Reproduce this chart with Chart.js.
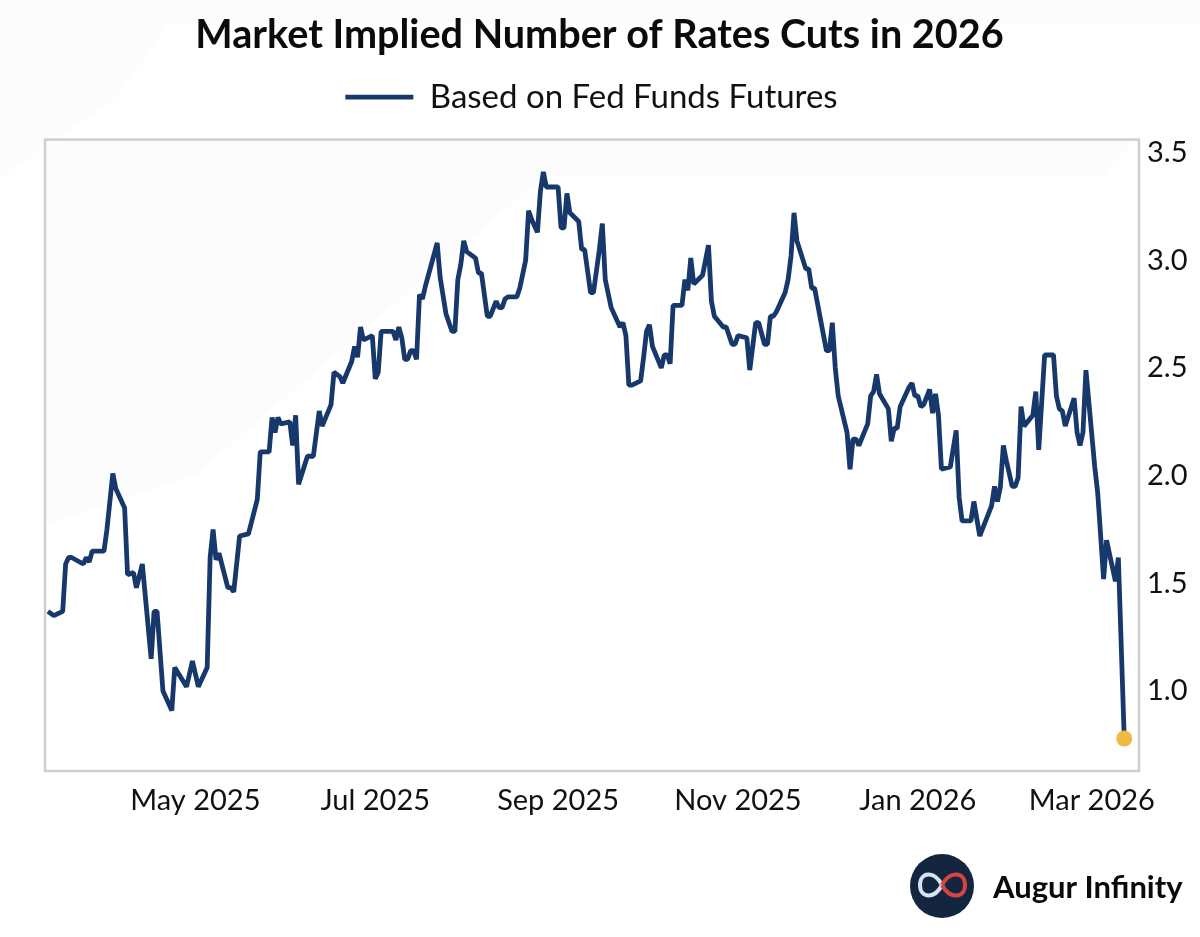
<!DOCTYPE html>
<html>
<head>
<meta charset="utf-8">
<title>Market Implied Number of Rates Cuts in 2026</title>
<script src="https://cdn.jsdelivr.net/npm/chart.js@4"></script>
<style>
  html, body { margin: 0; padding: 0; background: #fff; }
  #wrap { width: 1200px; height: 937px; }
</style>
</head>
<body>
<div id="wrap"><canvas id="cutsChart" width="1200" height="937"></canvas></div>
<script>
const dates = [
  '2025-03-12','2025-03-14','2025-03-17','2025-03-18','2025-03-19','2025-03-20','2025-03-24','2025-03-25','2025-03-26','2025-03-27',
  '2025-03-31','2025-04-01','2025-04-03','2025-04-04','2025-04-07','2025-04-08','2025-04-10','2025-04-11','2025-04-13','2025-04-16',
  '2025-04-17','2025-04-18','2025-04-20','2025-04-23','2025-04-24','2025-04-28','2025-04-30','2025-05-02','2025-05-05','2025-05-06',
  '2025-05-07','2025-05-08','2025-05-09','2025-05-12','2025-05-13','2025-05-14','2025-05-16','2025-05-19','2025-05-22','2025-05-23',
  '2025-05-26','2025-05-27','2025-05-28','2025-05-29','2025-05-30','2025-06-02','2025-06-03','2025-06-04','2025-06-05','2025-06-08',
  '2025-06-10','2025-06-12','2025-06-13','2025-06-16','2025-06-17','2025-06-19','2025-06-20','2025-06-23','2025-06-24','2025-06-25',
  '2025-06-26','2025-06-27','2025-06-30','2025-07-01','2025-07-02','2025-07-03','2025-07-07','2025-07-08','2025-07-09','2025-07-10',
  '2025-07-11','2025-07-12','2025-07-13','2025-07-14','2025-07-15','2025-07-16','2025-07-17','2025-07-18','2025-07-22','2025-07-23',
  '2025-07-25','2025-07-27','2025-07-28','2025-07-29','2025-07-30','2025-07-31','2025-08-01','2025-08-04','2025-08-05','2025-08-06',
  '2025-08-08','2025-08-09','2025-08-11','2025-08-12','2025-08-13','2025-08-14','2025-08-15','2025-08-18','2025-08-19','2025-08-21',
  '2025-08-22','2025-08-23','2025-08-25','2025-08-26','2025-08-27','2025-08-28','2025-09-01','2025-09-02','2025-09-03','2025-09-04',
  '2025-09-05','2025-09-08','2025-09-09','2025-09-10','2025-09-12','2025-09-13','2025-09-15','2025-09-16','2025-09-17','2025-09-19',
  '2025-09-22','2025-09-23','2025-09-24','2025-09-25','2025-09-26','2025-09-29','2025-09-30','2025-10-01','2025-10-02','2025-10-03',
  '2025-10-06','2025-10-07','2025-10-08','2025-10-09','2025-10-10','2025-10-13','2025-10-14','2025-10-15','2025-10-16','2025-10-17',
  '2025-10-20','2025-10-22','2025-10-23','2025-10-24','2025-10-27','2025-10-28','2025-10-30','2025-10-31','2025-11-01','2025-11-04',
  '2025-11-05','2025-11-07','2025-11-08','2025-11-10','2025-11-11','2025-11-12','2025-11-13','2025-11-14','2025-11-17','2025-11-18',
  '2025-11-19','2025-11-20','2025-11-21','2025-11-24','2025-11-25','2025-11-26','2025-11-27','2025-12-01','2025-12-02','2025-12-03',
  '2025-12-04','2025-12-05','2025-12-08','2025-12-09','2025-12-10','2025-12-11','2025-12-12','2025-12-15','2025-12-16','2025-12-17',
  '2025-12-18','2025-12-19','2025-12-22','2025-12-23','2025-12-24','2025-12-25','2025-12-26','2025-12-29','2025-12-30','2025-12-31',
  '2026-01-01','2026-01-02','2026-01-03','2026-01-05','2026-01-06','2026-01-07','2026-01-08','2026-01-09','2026-01-12','2026-01-14',
  '2026-01-15','2026-01-16','2026-01-19','2026-01-20','2026-01-22','2026-01-26','2026-01-27','2026-01-28','2026-01-29','2026-01-30',
  '2026-01-31','2026-02-02','2026-02-03','2026-02-04','2026-02-05','2026-02-06','2026-02-09','2026-02-10','2026-02-11','2026-02-13',
  '2026-02-16','2026-02-17','2026-02-18','2026-02-19','2026-02-20','2026-02-23','2026-02-24','2026-02-25','2026-02-26','2026-02-27',
  '2026-03-02','2026-03-03','2026-03-05','2026-03-06','2026-03-09','2026-03-10','2026-03-12'
];
const impliedCuts = [
  1.37,1.35,1.37,1.59,1.62,1.62,1.59,1.62,1.60,1.65,
  1.65,1.75,2.01,1.94,1.85,1.54,1.55,1.48,1.59,1.15,
  1.37,1.37,1.00,0.91,1.11,1.02,1.14,1.02,1.11,1.62,
  1.75,1.61,1.64,1.48,1.48,1.46,1.72,1.73,1.89,2.11,
  2.11,2.27,2.20,2.27,2.24,2.25,2.14,2.28,1.96,2.09,
  2.09,2.30,2.23,2.33,2.48,2.46,2.43,2.53,2.60,2.55,
  2.69,2.63,2.65,2.45,2.48,2.67,2.67,2.63,2.69,2.64,
  2.54,2.54,2.58,2.58,2.54,2.84,2.82,2.88,3.08,2.92,
  2.75,2.67,2.67,2.91,2.98,3.09,3.04,3.01,2.94,2.94,
  2.74,2.74,2.81,2.78,2.78,2.82,2.83,2.83,2.87,3.00,
  3.23,3.19,3.13,3.32,3.41,3.34,3.34,3.15,3.15,3.31,
  3.22,3.18,3.05,3.05,2.85,2.85,3.05,3.17,2.91,2.78,
  2.69,2.71,2.65,2.42,2.42,2.44,2.55,2.67,2.70,2.60,
  2.50,2.56,2.56,2.52,2.79,2.79,2.91,2.86,3.01,2.89,
  2.93,3.07,2.81,2.74,2.69,2.69,2.61,2.61,2.65,2.64,
  2.49,2.71,2.71,2.61,2.61,2.74,2.74,2.76,2.85,2.91,
  3.02,3.22,3.09,2.96,2.96,2.87,2.87,2.58,2.58,2.71,
  2.50,2.37,2.20,2.03,2.17,2.17,2.14,2.24,2.37,2.39,
  2.47,2.38,2.31,2.16,2.22,2.22,2.32,2.41,2.43,2.37,
  2.37,2.32,2.33,2.40,2.29,2.38,2.28,2.03,2.04,2.21,
  1.90,1.79,1.79,1.88,1.72,1.86,1.95,1.88,1.95,2.14,
  2.07,1.95,1.95,1.99,2.32,2.23,2.28,2.39,2.12,2.56,
  2.56,2.37,2.31,2.30,2.23,2.36,2.20,2.14,2.20,2.49,
  2.04,1.92,1.52,1.70,1.51,1.62,0.78
];
const xTickDates = ['2025-05-01','2025-07-01','2025-09-01','2025-11-01','2026-01-01','2026-03-01'];
const xTickLabels = ['May 2025','Jul 2025','Sep 2025','Nov 2025','Jan 2026','Mar 2026'];
const yTicks = [1.0, 1.5, 2.0, 2.5, 3.0, 3.5];
const xStart = '2025-03-11';
const xEnd = '2026-03-17';

const navy = '#17386b';
const gold = '#f0b93f';
const bodyFont = 'Lato';
const headFont = 'Lato';

// faint watermark behind everything
const watermark = {
  id: 'watermark',
  beforeDraw(chart) {
    const { ctx, chartArea: a } = chart;
    ctx.save();
    ctx.fillStyle = '#fcfcfc';
    ctx.beginPath();
    ctx.moveTo(0, 0);
    ctx.lineTo(1200, 0);
    ctx.lineTo(1200, 23);
    ctx.lineTo(170, 23);
    ctx.lineTo(113, 100);
    ctx.lineTo(0, 178);
    ctx.closePath();
    ctx.moveTo(a.left, a.top);
    ctx.lineTo(1135, a.top);
    ctx.lineTo(1103, 175);
    ctx.lineTo(545, 175);
    ctx.lineTo(195, 475);
    ctx.lineTo(a.left, 525);
    ctx.closePath();
    ctx.fill();
    ctx.restore();
  }
};

// grey box round the plot area
const frame = {
  id: 'frame',
  beforeDatasetsDraw(chart) {
    const { ctx, chartArea: a } = chart;
    ctx.save();
    ctx.strokeStyle = '#cfcfcf';
    ctx.lineWidth = 2.5;
    ctx.strokeRect(a.left, a.top, a.right - a.left, a.bottom - a.top);
    ctx.restore();
  }
};

// title and legend are centred on the page, not on the padded box
const headerShift = {
  id: 'headerShift',
  afterLayout(chart) {
    chart.titleBlock.left -= 23;
    chart.titleBlock.right -= 23;
    chart.legend.left -= 31;
    chart.legend.right -= 31;
    chart.legend.top -= 16;
    chart.legend.bottom -= 16;
  }
};

// logo and brand name, bottom right
const brand = {
  id: 'brand',
  afterDraw(chart) {
    const ctx = chart.ctx;
    ctx.save();
    ctx.fillStyle = '#14263f';
    ctx.beginPath();
    ctx.arc(942, 886, 32, 0, Math.PI * 2);
    ctx.fill();
    ctx.lineWidth = 4;
    ctx.strokeStyle = '#d5e3f2';
    ctx.beginPath();
    ctx.moveTo(942, 885);
    ctx.bezierCurveTo(934, 870, 920, 872, 920, 885);
    ctx.bezierCurveTo(920, 898, 934, 900, 942, 885);
    ctx.stroke();
    ctx.strokeStyle = '#d8443f';
    ctx.beginPath();
    ctx.moveTo(942, 885);
    ctx.bezierCurveTo(950, 870, 965, 872, 965, 885);
    ctx.bezierCurveTo(965, 898, 950, 900, 942, 885);
    ctx.stroke();
    ctx.fillStyle = '#0b0b0b';
    ctx.font = 'bold 31px ' + headFont;
    ctx.textBaseline = 'alphabetic';
    ctx.fillText('Augur Infinity', 993, 898);
    ctx.restore();
  }
};

new Chart(document.getElementById('cutsChart').getContext('2d'), {
  type: 'line',
  data: {
    datasets: [{
      label: 'Based on Fed Funds Futures',
      data: dates.map((d, i) => ({ x: Date.parse(d), y: impliedCuts[i] })),
      borderColor: navy,
      backgroundColor: navy,
      borderWidth: 4.8,
      borderJoinStyle: 'bevel',
      tension: 0,
      pointRadius: ctx => ctx.dataIndex === dates.length - 1 ? 8 : 0,
      pointBackgroundColor: gold,
      pointBorderWidth: 0
    }]
  },
  options: {
    responsive: false,
    animation: false,
    devicePixelRatio: 1,
    layout: { padding: { top: 0, left: 45, right: 0, bottom: 116 } },
    scales: {
      x: {
        type: 'linear',
        min: Date.parse(xStart),
        max: Date.parse(xEnd),
        grid: { display: false },
        border: { display: false },
        afterBuildTicks(scale) {
          scale.ticks = xTickDates.map(d => ({ value: Date.parse(d) }));
        },
        afterFit(scale) { scale.height = 50; },
        ticks: {
          autoSkip: false,
          maxRotation: 0,
          padding: 4,
          color: '#111',
          font: { family: bodyFont, size: 29 },
          callback: (value, i) => xTickLabels[i]
        }
      },
      y: {
        position: 'right',
        min: 0.629,
        max: 3.56,
        grid: { display: false, drawTicks: false },
        border: { display: false },
        afterBuildTicks(scale) {
          scale.ticks = yTicks.map(v => ({ value: v }));
        },
        afterFit(scale) { scale.width = 61; },
        ticks: {
          padding: 8,
          color: '#111',
          font: { family: bodyFont, size: 29 },
          callback: value => value.toFixed(1)
        }
      }
    },
    plugins: {
      title: {
        display: true,
        text: 'Market Implied Number of Rates Cuts in 2026',
        color: '#0b0b0b',
        font: { family: headFont, size: 39.6, weight: 'bold', lineHeight: 1 },
        padding: { top: 15, bottom: 16 }
      },
      legend: {
        display: true,
        labels: {
          boxWidth: 68,
          boxHeight: 0,
          color: '#111',
          font: { family: bodyFont, size: 33 },
          padding: 26
        }
      },
      tooltip: { enabled: false }
    }
  },
  plugins: [watermark, frame, headerShift, brand]
});
</script>
</body>
</html>
